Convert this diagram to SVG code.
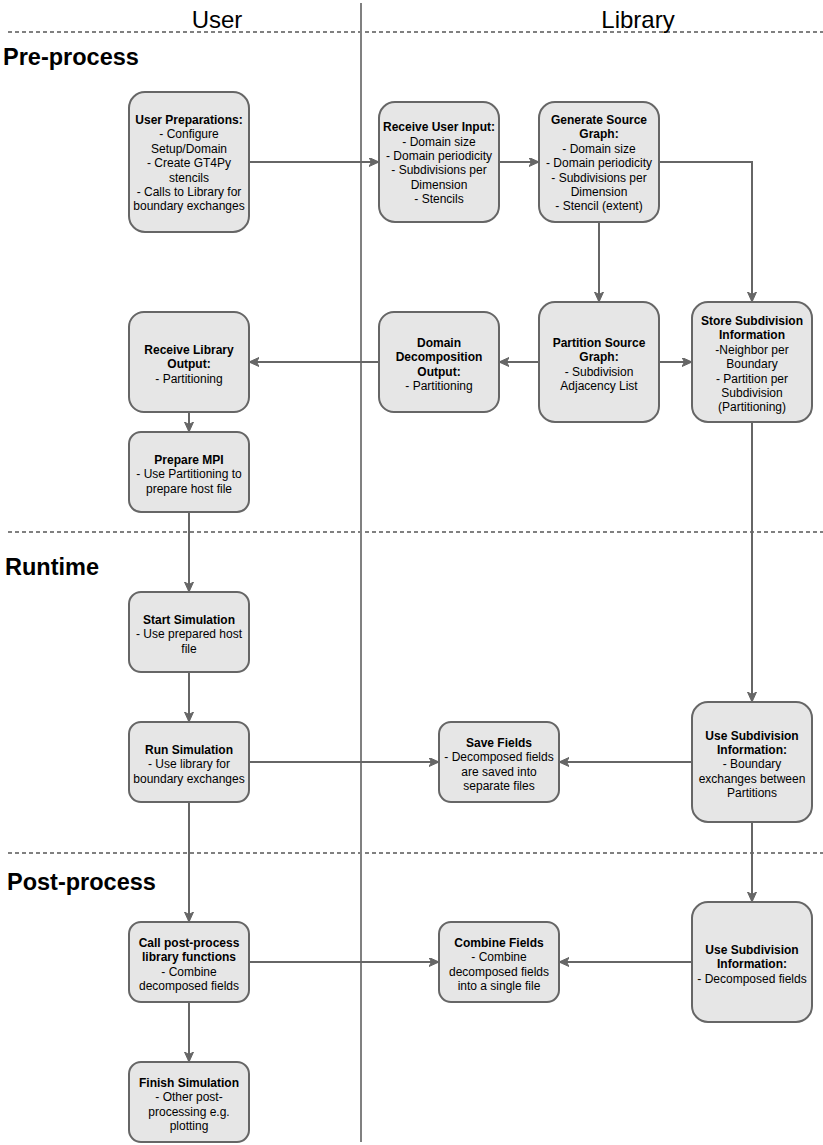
<svg xmlns="http://www.w3.org/2000/svg" width="823" height="1145" viewBox="0 0 823 1145">
<style>
.nd{fill:#E6E6E6;stroke:#666666;stroke-width:2}
.t{font-family:"Liberation Sans",Arial,sans-serif;font-size:12px;fill:#000;text-anchor:middle}
.b{font-weight:bold}
.c{fill:none;stroke:#666666;stroke-width:2}
.sep{stroke:#808080;stroke-width:2;stroke-dasharray:4 3;fill:none}
.hd{font-family:"Liberation Sans",Arial,sans-serif;font-size:24px;fill:#000}
.sec{font-family:"Liberation Sans",Arial,sans-serif;font-size:23.5px;font-weight:bold;fill:#000}
</style>
<defs>
<marker id="ah" markerWidth="12" markerHeight="10" refX="9" refY="4.5" orient="auto" markerUnits="userSpaceOnUse">
<path d="M0,0 L10,4.5 L0,9 L2.5,4.5 Z" fill="#666666" stroke="#666666" stroke-width="1"/>
</marker>
</defs>
<rect width="823" height="1145" fill="#ffffff"/>
<g id="lanes">
<line x1="361" y1="3" x2="361" y2="1142" stroke="#808080" stroke-width="2"/>
<line class="sep" x1="8" y1="32" x2="823" y2="32"/>
<line class="sep" x1="8" y1="532" x2="823" y2="532"/>
<line class="sep" x1="8" y1="853" x2="823" y2="853"/>
<text class="hd" x="217" y="28" text-anchor="middle">User</text>
<text class="hd" x="638" y="28" text-anchor="middle">Library</text>
<text class="sec" x="3" y="65">Pre-process</text>
<text class="sec" x="5" y="575">Runtime</text>
<text class="sec" x="7" y="890">Post-process</text>
</g>
<g id="connectors">
<path class="c" marker-end="url(#ah)" d="M249,162 L378,162"/>
<path class="c" marker-end="url(#ah)" d="M499,162 L538,162"/>
<path class="c" marker-end="url(#ah)" d="M599,222 L599,301"/>
<path class="c" marker-end="url(#ah)" d="M659,162 L752,162 L752,301"/>
<path class="c" marker-end="url(#ah)" d="M539,362 L500,362"/>
<path class="c" marker-end="url(#ah)" d="M659,362 L691,362"/>
<path class="c" marker-end="url(#ah)" d="M379,362 L250,362"/>
<path class="c" marker-end="url(#ah)" d="M189,412 L189,431"/>
<path class="c" marker-end="url(#ah)" d="M189,512 L189,591"/>
<path class="c" marker-end="url(#ah)" d="M189,672 L189,721"/>
<path class="c" marker-end="url(#ah)" d="M249,762 L438,762"/>
<path class="c" marker-end="url(#ah)" d="M752,422 L752,701"/>
<path class="c" marker-end="url(#ah)" d="M692,762 L560,762"/>
<path class="c" marker-end="url(#ah)" d="M189,802 L189,921"/>
<path class="c" marker-end="url(#ah)" d="M752,822 L752,901"/>
<path class="c" marker-end="url(#ah)" d="M249,962 L438,962"/>
<path class="c" marker-end="url(#ah)" d="M692,962 L560,962"/>
<path class="c" marker-end="url(#ah)" d="M189,1002 L189,1061"/>
</g>
<g id="n-user-prep">
<rect class="nd" x="129" y="92" width="120" height="140" rx="16"/>
<text class="t" x="189"><tspan class="b" x="189" y="124">User Preparations:</tspan><tspan x="189" y="138.4">- Configure</tspan><tspan x="189" y="152.8">Setup/Domain</tspan><tspan x="189" y="167.2">- Create GT4Py</tspan><tspan x="189" y="181.6">stencils</tspan><tspan x="189" y="196">- Calls to Library for</tspan><tspan x="189" y="210.4">boundary exchanges</tspan></text>
</g>
<g id="n-receive-input">
<rect class="nd" x="379" y="102" width="120" height="120" rx="16"/>
<text class="t"><tspan class="b" x="439" y="131.2">Receive User Input:</tspan><tspan x="439" y="145.6">- Domain size</tspan><tspan x="439" y="160">- Domain periodicity</tspan><tspan x="439" y="174.4">- Subdivisions per</tspan><tspan x="439" y="188.8">Dimension</tspan><tspan x="439" y="203.2">- Stencils</tspan></text>
</g>
<g id="n-generate">
<rect class="nd" x="539" y="102" width="120" height="120" rx="16"/>
<text class="t"><tspan class="b" x="599" y="124">Generate Source</tspan><tspan class="b" x="599" y="138.4">Graph:</tspan><tspan x="599" y="152.8">- Domain size</tspan><tspan x="599" y="167.2">- Domain periodicity</tspan><tspan x="599" y="181.6">- Subdivisions per</tspan><tspan x="599" y="196">Dimension</tspan><tspan x="599" y="210.4">- Stencil (extent)</tspan></text>
</g>
<g id="n-receive-output">
<rect class="nd" x="129" y="312" width="120" height="100" rx="15"/>
<text class="t"><tspan class="b" x="189" y="354">Receive Library</tspan><tspan class="b" x="189" y="368.4">Output:</tspan><tspan x="189" y="382.8">- Partitioning</tspan></text>
</g>
<g id="n-domain-decomp">
<rect class="nd" x="379" y="312" width="120" height="100" rx="15"/>
<text class="t"><tspan class="b" x="439" y="346.8">Domain</tspan><tspan class="b" x="439" y="361.2">Decomposition</tspan><tspan class="b" x="439" y="375.6">Output:</tspan><tspan x="439" y="390">- Partitioning</tspan></text>
</g>
<g id="n-partition">
<rect class="nd" x="539" y="302" width="120" height="120" rx="16"/>
<text class="t"><tspan class="b" x="599" y="346.8">Partition Source</tspan><tspan class="b" x="599" y="361.2">Graph:</tspan><tspan x="599" y="375.6">- Subdivision</tspan><tspan x="599" y="390">Adjacency List</tspan></text>
</g>
<g id="n-store">
<rect class="nd" x="692" y="302" width="120" height="120" rx="16"/>
<text class="t"><tspan class="b" x="752" y="325">Store Subdivision</tspan><tspan class="b" x="752" y="339.4">Information</tspan><tspan x="752" y="353.8">-Neighbor per</tspan><tspan x="752" y="368.2">Boundary</tspan><tspan x="752" y="382.6">- Partition per</tspan><tspan x="752" y="397">Subdivision</tspan><tspan x="752" y="411.4">(Partitioning)</tspan></text>
</g>
<g id="n-prepare-mpi">
<rect class="nd" x="129" y="432" width="120" height="80" rx="12"/>
<text class="t"><tspan class="b" x="189" y="464">Prepare MPI</tspan><tspan x="189" y="478.4">- Use Partitioning to</tspan><tspan x="189" y="492.8">prepare host file</tspan></text>
</g>
<g id="n-start">
<rect class="nd" x="129" y="592" width="120" height="80" rx="12"/>
<text class="t"><tspan class="b" x="189" y="624">Start Simulation</tspan><tspan x="189" y="638.4">- Use prepared host</tspan><tspan x="189" y="652.8">file</tspan></text>
</g>
<g id="n-run">
<rect class="nd" x="129" y="722" width="120" height="80" rx="12"/>
<text class="t"><tspan class="b" x="189" y="754">Run Simulation</tspan><tspan x="189" y="768.4">- Use library for</tspan><tspan x="189" y="782.8">boundary exchanges</tspan></text>
</g>
<g id="n-save">
<rect class="nd" x="439" y="722" width="120" height="80" rx="12"/>
<text class="t"><tspan class="b" x="499" y="746.8">Save Fields</tspan><tspan x="499" y="761.2">- Decomposed fields</tspan><tspan x="499" y="775.6">are saved into</tspan><tspan x="499" y="790">separate files</tspan></text>
</g>
<g id="n-use-sub-1">
<rect class="nd" x="692" y="702" width="120" height="120" rx="16"/>
<text class="t"><tspan class="b" x="752" y="739.6">Use Subdivision</tspan><tspan class="b" x="752" y="754">Information:</tspan><tspan x="752" y="768.4">- Boundary</tspan><tspan x="752" y="782.8">exchanges between</tspan><tspan x="752" y="797.2">Partitions</tspan></text>
</g>
<g id="n-call-post">
<rect class="nd" x="129" y="922" width="120" height="80" rx="12"/>
<text class="t"><tspan class="b" x="189" y="946.8">Call post-process</tspan><tspan class="b" x="189" y="961.2">library functions</tspan><tspan x="189" y="975.6">- Combine</tspan><tspan x="189" y="990">decomposed fields</tspan></text>
</g>
<g id="n-combine">
<rect class="nd" x="439" y="922" width="120" height="80" rx="12"/>
<text class="t"><tspan class="b" x="499" y="946.8">Combine Fields</tspan><tspan x="499" y="961.2">- Combine</tspan><tspan x="499" y="975.6">decomposed fields</tspan><tspan x="499" y="990">into a single file</tspan></text>
</g>
<g id="n-use-sub-2">
<rect class="nd" x="692" y="902" width="120" height="120" rx="16"/>
<text class="t"><tspan class="b" x="752" y="954">Use Subdivision</tspan><tspan class="b" x="752" y="968.4">Information:</tspan><tspan x="752" y="982.8">- Decomposed fields</tspan></text>
</g>
<g id="n-finish">
<rect class="nd" x="129" y="1062" width="120" height="80" rx="12"/>
<text class="t"><tspan class="b" x="189" y="1086.8">Finish Simulation</tspan><tspan x="189" y="1101.2">- Other post-</tspan><tspan x="189" y="1115.6">processing e.g.</tspan><tspan x="189" y="1130">plotting</tspan></text>
</g>
</svg>
